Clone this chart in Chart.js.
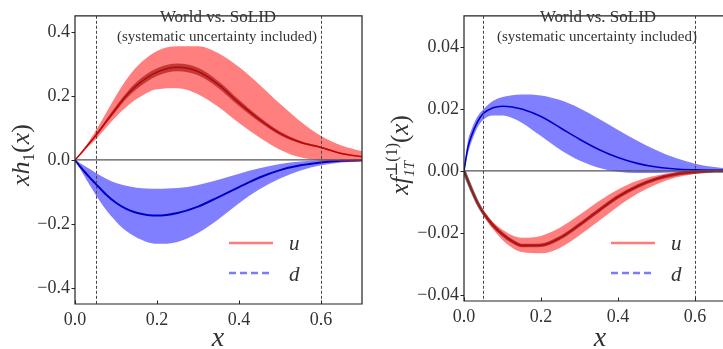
<!DOCTYPE html>
<html lang="en">
<head>
  <meta charset="UTF-8">
  <title>World vs. SoLID</title>
  <script src="https://cdn.jsdelivr.net/npm/chart.js"></script>
  <style>
    body { margin: 0; background: #fff; }
    #wrap { position: relative; width: 723px; height: 349px; overflow: hidden; }
    #leftChart { position: absolute; left: 0; top: 0; }
    #rightChart { position: absolute; left: 370px; top: 0; }
  </style>
</head>
<body>
  <div id="wrap">
    <canvas id="leftChart" width="370" height="349"></canvas>
    <canvas id="rightChart" width="353" height="349"></canvas>
  </div>

  <script>
    // x grid shared by all curves
    const xs = [0, 0.01, 0.02, 0.035, 0.05, 0.075, 0.1, 0.125, 0.15, 0.2, 0.25, 0.3, 0.35, 0.4, 0.45, 0.5, 0.55, 0.6, 0.65, 0.7];

    // left panel: x h1(x)
    const uMidL  = [0, 0.014, 0.029, 0.052, 0.075, 0.118, 0.16, 0.2, 0.232, 0.274, 0.289, 0.276, 0.235, 0.178, 0.126, 0.083, 0.055, 0.039, 0.02, 0.01];
    const uHiL   = [0, 0.016, 0.033, 0.06, 0.09, 0.145, 0.2, 0.25, 0.29, 0.34, 0.355, 0.355, 0.333, 0.29, 0.235, 0.175, 0.12, 0.075, 0.045, 0.027];
    const uLoL   = [0, 0.012, 0.025, 0.045, 0.063, 0.1, 0.135, 0.165, 0.19, 0.221, 0.224, 0.205, 0.165, 0.115, 0.07, 0.032, 0.008, -0.002, -0.004, -0.005];
    const uInHiL = [0, 0.015, 0.031, 0.055, 0.079, 0.124, 0.168, 0.209, 0.243, 0.286, 0.301, 0.288, 0.246, 0.188, 0.134, 0.089, 0.059, 0.042, 0.022, 0.011];
    const uInLoL = [0, 0.013, 0.027, 0.049, 0.071, 0.112, 0.152, 0.191, 0.221, 0.262, 0.277, 0.264, 0.224, 0.168, 0.118, 0.077, 0.051, 0.036, 0.018, 0.009];
    const dMidL  = [0, -0.017, -0.032, -0.054, -0.074, -0.107, -0.134, -0.153, -0.165, -0.174, -0.166, -0.146, -0.116, -0.085, -0.055, -0.032, -0.017, -0.008, -0.003, -0.001];
    const dHiL   = [0, -0.008, -0.016, -0.028, -0.04, -0.058, -0.072, -0.081, -0.087, -0.09, -0.088, -0.078, -0.062, -0.043, -0.026, -0.013, -0.005, -0.001, 0, 0];
    const dLoL   = [0, -0.023, -0.045, -0.077, -0.108, -0.155, -0.192, -0.222, -0.242, -0.262, -0.256, -0.228, -0.185, -0.135, -0.092, -0.058, -0.033, -0.017, -0.008, -0.004];

    // right panel: x f1T^perp(1)(x)
    const uMidR = [0, -0.0032, -0.0062, -0.0103, -0.0135, -0.0175, -0.0205, -0.0227, -0.0241, -0.024, -0.0216, -0.0174, -0.0128, -0.0084, -0.005, -0.0026, -0.0011, -0.0004, -0.0001, 0];
    const uHiR  = [0, -0.003, -0.0058, -0.0098, -0.0128, -0.0165, -0.019, -0.0208, -0.0216, -0.021, -0.0183, -0.0142, -0.0098, -0.006, -0.0032, -0.0015, -0.0005, 0, 0.0002, 0.0003];
    const uLoR  = [0, -0.0035, -0.0067, -0.0109, -0.0143, -0.0188, -0.0223, -0.0248, -0.0262, -0.0266, -0.0248, -0.0208, -0.0162, -0.0115, -0.0074, -0.0043, -0.0022, -0.001, -0.0004, -0.0002];
    const dMidR = [0, 0.0075, 0.0115, 0.0158, 0.0185, 0.0203, 0.0208, 0.0206, 0.0199, 0.0175, 0.0139, 0.0102, 0.0069, 0.0043, 0.0024, 0.0012, 0.0006, 0.0003, 0.0001, 0];
    const dHiR  = [0, 0.0095, 0.0135, 0.0175, 0.0198, 0.0225, 0.0238, 0.0244, 0.0246, 0.0243, 0.0228, 0.0202, 0.0168, 0.0132, 0.0097, 0.0066, 0.0041, 0.0023, 0.0012, 0.0006];
    const dLoR  = [0, 0.0055, 0.0095, 0.014, 0.0165, 0.0178, 0.0178, 0.017, 0.0155, 0.0112, 0.0068, 0.0033, 0.001, -0.0003, -0.0007, -0.0007, -0.0005, -0.0003, -0.0002, -0.0001];

    const xTicks  = [0, 0.2, 0.4, 0.6];
    const yTicksL = [-0.4, -0.2, 0, 0.2, 0.4];
    const yTicksR = [-0.04, -0.02, 0, 0.02, 0.04];
    const xCuts   = [0.05, 0.6];

    const SERIF = "'Liberation Serif', 'DejaVu Serif', serif";
    const INK = '#333';

    function pts(ys) { return xs.map((x, i) => ({ x: x, y: ys[i] })); }

    function band(ys, fill, color) {
      return {
        data: pts(ys), borderWidth: 0, borderColor: 'rgba(0,0,0,0)',
        backgroundColor: color || 'rgba(0,0,0,0)', fill: fill,
        pointRadius: 0, cubicInterpolationMode: 'monotone'
      };
    }
    function line(ys, color, width) {
      return {
        data: pts(ys), borderWidth: width, borderColor: color, fill: false,
        pointRadius: 0, cubicInterpolationMode: 'monotone'
      };
    }

    // draw a row of text pieces (sub/superscripts) centred on cx, cy
    function drawRuns(ctx, runs, cx, cy, angle) {
      ctx.save();
      ctx.translate(cx, cy);
      ctx.rotate(angle || 0);
      let total = 0;
      runs.forEach(r => {
        ctx.font = r.f;
        r.w = r.stack ? Math.max(...r.stack.map(s => { ctx.font = s.f; return ctx.measureText(s.t).width; }))
                      : ctx.measureText(r.t).width;
        total += r.w;
      });
      let x = -total / 2;
      ctx.fillStyle = INK;
      ctx.textBaseline = 'alphabetic';
      ctx.textAlign = 'left';
      runs.forEach(r => {
        const parts = r.stack || [r];
        parts.forEach(p => { ctx.font = p.f; ctx.fillText(p.t, x, 7 + (p.dy || 0)); });
        x += r.w;
      });
      ctx.restore();
    }

    const decor = {
      id: 'decor',
      afterDatasetsDraw(chart, args, o) {
        const ctx = chart.ctx, a = chart.chartArea;
        const sx = chart.scales.x, sy = chart.scales.y;
        ctx.save();

        // zero line
        ctx.strokeStyle = '#555';
        ctx.lineWidth = 1.2;
        ctx.beginPath();
        ctx.moveTo(a.left, sy.getPixelForValue(0));
        ctx.lineTo(a.right, sy.getPixelForValue(0));
        ctx.stroke();

        // kinematic cuts
        ctx.strokeStyle = '#444';
        ctx.lineWidth = 1;
        ctx.setLineDash([3, 2]);
        xCuts.forEach(v => {
          const px = Math.round(sx.getPixelForValue(v)) + 0.5;
          ctx.beginPath();
          ctx.moveTo(px, a.top);
          ctx.lineTo(px, a.bottom);
          ctx.stroke();
        });
        ctx.setLineDash([]);

        // frame
        ctx.strokeStyle = '#222';
        ctx.lineWidth = 1.2;
        ctx.beginPath();
        if (o.openRight) {
          ctx.moveTo(a.right + 2, a.top);
          ctx.lineTo(a.left, a.top);
          ctx.lineTo(a.left, a.bottom);
          ctx.lineTo(a.right + 2, a.bottom);
        } else {
          ctx.rect(a.left, a.top, a.right - a.left, a.bottom - a.top);
        }
        ctx.stroke();

        // tick marks
        ctx.lineWidth = 1;
        sy.ticks.forEach(t => {
          const py = Math.round(sy.getPixelForValue(t.value)) + 0.5;
          ctx.beginPath(); ctx.moveTo(a.left - 3.5, py); ctx.lineTo(a.left, py); ctx.stroke();
        });
        sx.ticks.forEach(t => {
          const px = Math.round(sx.getPixelForValue(t.value)) + 0.5;
          ctx.beginPath(); ctx.moveTo(px, a.bottom); ctx.lineTo(px, a.bottom - 3.5); ctx.stroke();
        });

        // title inside the plot
        ctx.fillStyle = INK;
        ctx.textAlign = 'center';
        ctx.textBaseline = 'middle';
        ctx.font = '17px ' + SERIF;
        ctx.fillText('World vs. SoLID', o.titleX, 18);
        ctx.font = '15px ' + SERIF;
        ctx.fillText('(systematic uncertainty included)', o.titleX - 1, 37);

        // legend
        ctx.lineWidth = 2.5;
        ctx.strokeStyle = '#ff7b7b';
        ctx.beginPath(); ctx.moveTo(o.legX, 243); ctx.lineTo(o.legX + 44, 243); ctx.stroke();
        ctx.strokeStyle = '#7b7bff';
        ctx.setLineDash([7, 4]);
        ctx.beginPath(); ctx.moveTo(o.legX, 273); ctx.lineTo(o.legX + 44, 273); ctx.stroke();
        ctx.setLineDash([]);
        ctx.textAlign = 'left';
        ctx.textBaseline = 'alphabetic';
        ctx.font = 'italic 21px ' + SERIF;
        ctx.fillText('u', o.legX + 60, 250);
        ctx.fillText('d', o.legX + 60, 281);

        // axis titles
        drawRuns(ctx, [{ t: 'x', f: 'italic 28px ' + SERIF }], o.xLabX, 339, 0);
        drawRuns(ctx, o.yLab, o.yLabX, 155, -Math.PI / 2);

        ctx.restore();
      }
    };

    function makeChart(id, datasets, cfg) {
      return new Chart(document.getElementById(id), {
        type: 'line',
        data: { datasets: datasets },
        plugins: [decor],
        options: {
          responsive: false,
          animation: false,
          devicePixelRatio: 1,
          layout: { padding: cfg.padding },
          plugins: { legend: { display: false }, tooltip: { enabled: false }, decor: cfg.decor },
          scales: {
            x: {
              type: 'linear', min: 0, max: cfg.xMax,
              grid: { display: false, drawTicks: false }, border: { display: false },
              afterBuildTicks: s => { s.ticks = xTicks.map(v => ({ value: v })); },
              afterFit: s => { s.height = cfg.xHeight; },
              ticks: {
                padding: 5, color: INK, maxRotation: 0,
                font: { family: SERIF, size: 18 },
                callback: v => v.toFixed(1)
              }
            },
            y: {
              type: 'linear', min: cfg.yMin, max: cfg.yMax,
              grid: { display: false, drawTicks: false }, border: { display: false },
              afterBuildTicks: s => { s.ticks = cfg.yTicks.map(v => ({ value: v })); },
              afterFit: s => { s.width = cfg.yWidth; },
              ticks: {
                padding: 5, color: INK,
                font: { family: SERIF, size: 18 },
                callback: v => (v < 0 ? '\u2212' : '') + Math.abs(v).toFixed(cfg.digits)
              }
            }
          }
        }
      });
    }

    makeChart('leftChart', [
      band(uLoL, false),
      band(uHiL, '-1', 'rgba(255,0,0,0.5)'),
      band(dLoL, false),
      band(dHiL, '-1', 'rgba(0,0,255,0.5)'),
      band(uInLoL, false),
      band(uInHiL, '-1', 'rgba(45,25,25,0.6)'),
      line(uMidL, '#e00000', 1.5),
      line(dMidL, '#00008a', 2)
    ], {
      padding: { top: 5, right: 8, left: 0, bottom: 0 },
      xMax: 0.7, yMin: -0.45, yMax: 0.45, yTicks: yTicksL, digits: 1,
      xHeight: 45, yWidth: 75,
      decor: {
        titleX: 218, legX: 229, xLabX: 218, yLabX: 22,
        yLab: [
          { t: 'xh', f: 'italic 26px ' + SERIF },
          { t: '1', f: '17px ' + SERIF, dy: 5 },
          { t: '(', f: '26px ' + SERIF },
          { t: 'x', f: 'italic 26px ' + SERIF },
          { t: ')', f: '26px ' + SERIF }
        ]
      }
    });

    makeChart('rightChart', [
      band(uLoR, false),
      band(uHiR, '-1', 'rgba(255,0,0,0.5)'),
      band(dLoR, false),
      band(dHiR, '-1', 'rgba(0,0,255,0.5)'),
      line(uMidR, 'rgba(50,30,30,0.7)', 3.5),
      line(uMidR, '#e00000', 1.3),
      line(dMidR, '#00008a', 1.6)
    ], {
      padding: { top: 5, right: 0, left: 0, bottom: 0 },
      xMax: 0.6727, yMin: -0.042, yMax: 0.05, yTicks: yTicksR, digits: 2,
      xHeight: 48, yWidth: 94,
      decor: {
        openRight: true, titleX: 228, legX: 241, xLabX: 230, yLabX: 31,
        yLab: [
          { t: 'xf', f: 'italic 25px ' + SERIF },
          { stack: [
            { t: '\u22a5(1)', f: '16px ' + SERIF, dy: -11 },
            { t: '1T', f: 'italic 15px ' + SERIF, dy: 6 }
          ] },
          { t: '(', f: '25px ' + SERIF },
          { t: 'x', f: 'italic 25px ' + SERIF },
          { t: ')', f: '25px ' + SERIF }
        ]
      }
    });
  </script>
</body>
</html>
